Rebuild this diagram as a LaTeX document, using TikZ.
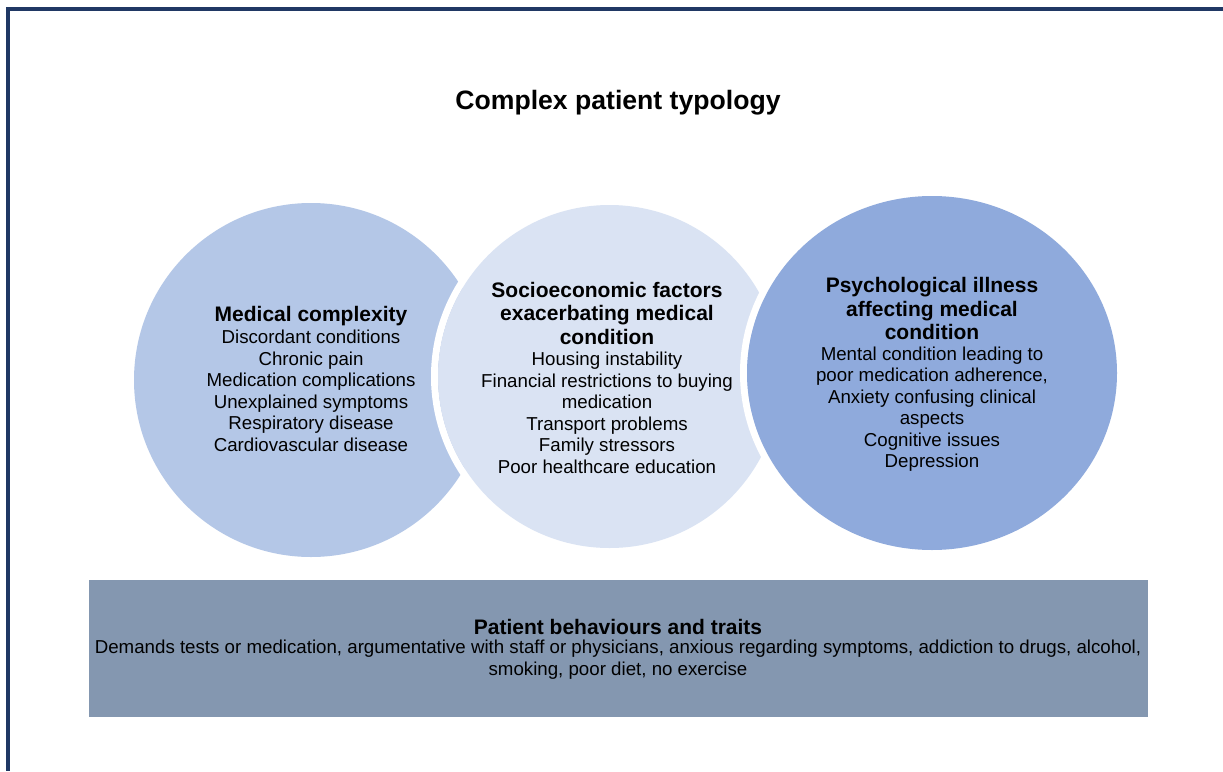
\documentclass[tikz,border=0pt]{standalone}
\usepackage{fontspec}
\setmainfont{Liberation Sans}
\definecolor{frameblue}{HTML}{203864}
\definecolor{cleft}{HTML}{B4C7E7}
\definecolor{cmid}{HTML}{DAE3F3}
\definecolor{cright}{HTML}{8FAADC}
\definecolor{cbar}{HTML}{8497B0}
\tikzset{
  headtxt/.style={align=center, inner sep=0pt, font=\bfseries\fontsize{21}{23.5}\selectfont},
  bodytxt/.style={align=center, inner sep=0pt, font=\fontsize{18.7}{21.5}\selectfont},
  gapring/.style={draw=white, line width=7pt},
}
\begin{document}
\begin{tikzpicture}[x=1pt, y=-1pt]
\useasboundingbox (0,0) rectangle (1223,771);
\fill[white] (0,0) rectangle (1223,771);
% frame
\fill[frameblue] (6,7) rectangle (1223,11);
\fill[frameblue] (6,7) rectangle (10,771);
% title
\node[inner sep=0pt, font=\bfseries\fontsize{26.6}{30}\selectfont] (title) at (618,103) {Complex patient typology};
% circles
\fill[cleft] (311,380) circle[radius=177pt];
\draw[gapring] (609.5,376.5) circle[radius=175pt];
\fill[cmid] (609.5,376.5) circle[radius=171.5pt];
\draw[gapring] (932,373) ellipse[x radius=188.5pt, y radius=180.5pt];
\fill[cright] (932,373) ellipse[x radius=185pt, y radius=177pt];
% left text
\node[headtxt] (lh) at (311,316) {Medical complexity};
\node[bodytxt] (lb) at (311,391) {Discordant conditions\\Chronic pain\\Medication complications\\Unexplained symptoms\\Respiratory disease\\Cardiovascular disease};
% middle text
\node[headtxt] (mh) at (607,313) {Socioeconomic factors\\exacerbating medical\\condition};
\node[bodytxt] (mb) at (607,413) {Housing instability\\Financial restrictions to buying\\medication\\Transport problems\\Family stressors\\Poor healthcare education};
% right text
\node[headtxt] (rh) at (932,308.5) {Psychological illness\\affecting medical\\condition};
\node[bodytxt] (rb) at (932,409) {Mental condition leading to\\poor medication adherence,\\Anxiety confusing clinical\\aspects\\Cognitive issues\\Depression};
% bottom bar
\fill[cbar] (89,580) rectangle (1148,717);
\node[headtxt] (bh) at (618,627) {Patient behaviours and traits};
\node[bodytxt] (bb) at (618,659.5) {Demands tests or medication, argumentative with staff or physicians, anxious regarding symptoms, addiction to drugs, alcohol,\\smoking, poor diet, no exercise};
\end{tikzpicture}
\end{document}
